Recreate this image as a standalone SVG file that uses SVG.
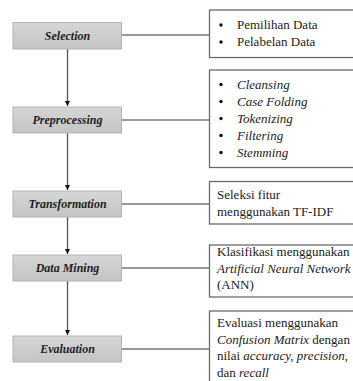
<svg xmlns="http://www.w3.org/2000/svg" width="353" height="381" viewBox="0 0 353 381">
<style>
text{font-family:Liberation Serif, Tinos, Noto Serif, DejaVu Serif, serif}
.step rect{fill:url(#g);stroke:#b4b4b4;stroke-width:1}
.step text{font-weight:bold;font-style:italic;font-size:12px;fill:#1e1e1e;text-anchor:middle}
.box rect{fill:#fff;stroke:#6a6a6a;stroke-width:1.3}
.box text{font-size:13px;fill:#222}
.it{font-style:italic}
.box circle{fill:#111}
.conn line{stroke:#555;stroke-width:1.3}
.conn .h{stroke:#777;stroke-width:1.5}
</style>
<defs>
<linearGradient id="g" x1="0" y1="0" x2="0" y2="1">
<stop offset="0" stop-color="#d6d6d6"/>
<stop offset="1" stop-color="#c4c4c4"/>
</linearGradient>
<marker id="ah" viewBox="0 0 10 10" refX="10" refY="5" markerWidth="5" markerHeight="5" orient="auto" markerUnits="userSpaceOnUse">
<path d="M0,0 L10,5 L0,10 z" fill="#111"/>
</marker>
</defs>
<g class="conn">
<line x1="67.5" y1="49" x2="67.5" y2="106" marker-end="url(#ah)"/>
<line x1="67.5" y1="133" x2="67.5" y2="190" marker-end="url(#ah)"/>
<line x1="67.5" y1="217" x2="67.5" y2="254" marker-end="url(#ah)"/>
<line x1="67.5" y1="281" x2="67.5" y2="335" marker-end="url(#ah)"/>
<line class="h" x1="121.5" y1="35" x2="209.5" y2="35"/>
<line class="h" x1="121.5" y1="120" x2="209.5" y2="120"/>
<line class="h" x1="121.5" y1="204" x2="209.5" y2="204"/>
<line class="h" x1="121.5" y1="268" x2="209.5" y2="268"/>
<line class="h" x1="121.5" y1="349" x2="209.5" y2="349"/>
</g>
<g id="selection" class="step"><rect x="13" y="22.5" width="108.5" height="26.5"/><text x="67.5" y="40">Selection</text></g>
<g id="preprocessing" class="step"><rect x="13" y="107" width="108.5" height="26"/><text x="67.5" y="124">Preprocessing</text></g>
<g id="transformation" class="step"><rect x="13" y="191" width="108.5" height="26"/><text x="67.5" y="208">Transformation</text></g>
<g id="datamining" class="step"><rect x="13" y="255" width="108.5" height="26"/><text x="67.5" y="272">Data Mining</text></g>
<g id="evaluation" class="step"><rect x="13" y="336" width="108.5" height="26"/><text x="67.5" y="353">Evaluation</text></g>
<g id="box-selection" class="box"><rect x="209.5" y="10" width="150" height="47.5"/>
<circle cx="221" cy="25" r="1.7"/><circle cx="221" cy="42" r="1.7"/>
<text x="237" y="29">Pemilihan Data</text><text x="237" y="46">Pelabelan Data</text></g>
<g id="box-preprocessing" class="box"><rect x="209.5" y="70" width="150" height="97.5"/>
<circle cx="221" cy="84.5" r="1.7"/><circle cx="221" cy="101.5" r="1.7"/><circle cx="221" cy="118.5" r="1.7"/><circle cx="221" cy="135.5" r="1.7"/><circle cx="221" cy="152.5" r="1.7"/>
<text class="it" x="237" y="88.5">Cleansing</text><text class="it" x="237" y="105.5">Case Folding</text><text class="it" x="237" y="122.5">Tokenizing</text><text class="it" x="237" y="139.5">Filtering</text><text class="it" x="237" y="156.5">Stemming</text></g>
<g id="box-transformation" class="box"><rect x="209.5" y="181.5" width="150" height="42.5"/>
<text x="217" y="199">Seleksi fitur</text><text x="217" y="215.5">menggunakan TF-IDF</text></g>
<g id="box-datamining" class="box"><rect x="209.5" y="245" width="150" height="52"/>
<text x="217" y="256">Klasifikasi menggunakan</text><text class="it" x="217" y="272.5">Artificial Neural Network</text><text x="217" y="289">(ANN)</text></g>
<g id="box-evaluation" class="box"><rect x="209.5" y="311" width="150" height="80"/>
<text x="217" y="327">Evaluasi menggunakan</text><text x="217" y="343.5"><tspan class="it">Confusion Matrix</tspan> dengan</text><text x="217" y="360">nilai <tspan class="it">accuracy, precision,</tspan></text><text x="217" y="376.5">dan <tspan class="it">recall</tspan></text></g>
</svg>
